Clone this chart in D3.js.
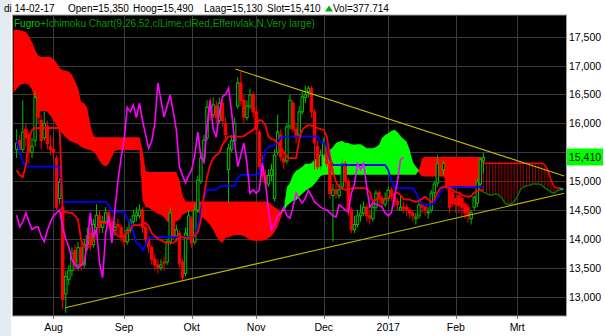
<!DOCTYPE html>
<html>
<head>
<meta charset="utf-8">
<script src="https://cdn.jsdelivr.net/npm/d3@7"></script>
<style>
  body { margin: 0; background: #fff; }
  svg { display: block; }
  text { font-family: "Segoe UI", "Liberation Sans", Arial, sans-serif; }
</style>
</head>
<body>
<script>
// ---- data ----
const ticker = "Fugro";
const studyName = "+Ichimoku Chart(9,26,52,clLime,clRed,Effenvlak,N,Very large)";
const firstDay = "2016-07-13";          // first cloud day, candles start one trading day later
const holidays = ["2016-12-26"];
const cloudShift = 26;
const volume = 377714;

const monthLabels = ["Aug", "Sep", "Okt", "Nov", "Dec", "2017", "Feb", "Mrt"];
const monthStarts = ["2016-08-01", "2016-09-01", "2016-10-01", "2016-11-01", "2016-12-01", "2017-01-01", "2017-02-01", "2017-03-01"];
const priceTicks = [13, 13.5, 14, 14.5, 15, 15.5, 16, 16.5, 17, 17.5];

// daily candles, 14-07-16 .. 14-02-17
const open = [15.55,15.70,15.55,15.90,15.80,15.50,15.70,16.40,16.05,15.75,15.95,15.60,
  15.55,15.40,14.70,14.55,13.05,13.30,13.45,13.80,13.55,13.85,
  13.55,13.90,14.10,13.90,14.20,14.40,14.20,14.30,14.45,14.30,
  14.15,14.25,14.20,14.05,13.95,14.15,14.30,14.40,14.40,14.50,
  14.20,14.00,13.85,13.65,13.55,13.50,13.60,13.60,13.95,14.40,
  14.05,14.10,13.60,13.40,14.05,14.35,13.95,14.50,15.00,15.40,
  15.75,16.30,16.15,16.30,16.05,16.35,16.00,15.20,15.55,15.70,
  16.30,16.70,16.40,16.10,16.30,16.50,16.20,15.85,15.25,15.10,
  14.95,15.10,14.70,15.50,15.80,15.40,15.35,15.95,16.35,15.90,
  15.80,16.20,16.45,16.55,16.60,16.20,15.60,15.25,15.45,15.60,
  15.30,14.75,14.85,14.75,14.90,15.30,15.00,14.50,14.16,14.25,
  14.40,14.45,14.55,14.40,14.35,14.55,14.80,14.70,14.60,14.70,
  14.85,14.75,14.65,14.50,14.55,14.55,14.50,14.45,14.35,14.40,
  14.60,14.55,14.45,14.50,14.80,14.97,15.35,15.20,15.30,15.00,
  14.80,14.70,14.75,14.70,14.60,14.55,14.35,14.55,14.62,14.95,15.35];
const high = [15.90,15.80,16.40,16.00,15.85,15.75,16.55,16.45,16.15,16.20,16.05,15.80,
  15.75,15.45,15.05,14.60,13.45,13.55,13.85,13.90,13.95,13.95,
  14.00,14.20,14.20,14.35,14.60,14.50,14.40,14.55,14.50,14.35,
  14.30,14.35,14.25,14.10,14.20,14.35,14.50,14.55,14.60,14.55,
  14.25,14.05,13.90,13.75,13.65,13.65,13.70,14.00,14.55,14.45,
  14.25,14.15,13.65,14.20,14.50,14.40,14.60,15.10,15.50,15.80,
  16.40,16.45,16.45,16.40,16.45,16.40,16.10,15.65,15.80,16.10,
  16.80,16.90,16.50,16.40,16.60,16.55,16.30,15.90,15.45,15.20,
  15.20,15.30,15.55,16.15,15.90,15.50,16.00,16.50,16.40,16.00,
  16.30,16.55,16.65,16.65,16.65,16.25,15.70,15.55,15.75,15.65,
  15.35,14.95,14.95,14.95,15.40,15.35,15.05,14.55,14.40,14.50,
  14.60,14.65,14.60,14.50,14.65,14.85,14.85,14.75,14.80,14.90,
  14.90,14.80,14.70,14.75,14.65,14.60,14.55,14.50,14.45,14.70,
  14.65,14.60,14.55,14.85,15.00,15.45,15.40,15.35,15.35,15.05,
  14.85,14.70,14.80,14.75,14.65,14.60,14.50,14.75,15.05,15.40,15.49];
const low = [15.40,15.45,15.50,15.60,15.30,15.40,15.60,16.00,15.55,15.70,15.55,15.45,
  15.40,14.50,14.60,12.78,12.72,13.20,13.35,13.45,13.45,13.45,
  13.50,13.80,13.80,13.85,14.15,14.10,14.10,14.25,14.20,14.05,
  14.05,14.10,13.95,13.85,13.90,14.10,14.25,14.30,14.35,14.10,
  13.90,13.75,13.55,13.45,13.40,13.45,13.45,13.55,13.90,14.00,
  13.95,13.50,13.28,13.35,14.00,13.85,13.90,14.45,14.95,15.35,
  15.70,16.05,16.10,16.00,16.00,15.95,15.70,14.62,15.50,15.65,
  16.25,16.30,16.00,16.05,16.25,16.10,15.80,15.15,15.00,14.90,
  14.90,15.00,14.65,15.45,15.35,15.20,15.30,15.90,15.85,15.65,
  15.75,16.15,16.35,16.45,16.10,15.20,15.20,15.20,15.40,15.25,
  14.70,13.95,14.70,14.70,14.85,14.90,14.40,14.10,14.10,14.20,
  14.30,14.40,14.30,14.25,14.30,14.50,14.60,14.55,14.55,14.65,
  14.65,14.55,14.50,14.50,14.45,14.40,14.35,14.30,14.25,14.35,
  14.45,14.40,14.35,14.45,14.70,14.90,15.10,15.10,14.85,14.45,
  14.55,14.45,14.45,14.40,14.35,14.28,14.25,14.50,14.55,14.90,15.13];
const close = [15.66,15.55,15.85,15.75,15.50,15.60,16.45,16.10,15.70,16.00,15.65,15.55,
  15.50,14.55,14.98,12.95,13.35,13.45,13.75,13.55,13.85,13.55,
  13.90,14.05,13.90,14.25,14.41,14.21,14.30,14.45,14.30,14.16,
  14.20,14.21,14.05,13.95,14.15,14.29,14.40,14.45,14.50,14.20,
  14.00,13.86,13.64,13.55,13.50,13.55,13.58,13.95,14.45,14.05,
  14.16,13.58,13.33,14.10,14.40,13.93,14.50,15.02,15.40,15.71,
  16.28,16.20,16.32,16.10,16.35,16.05,15.80,15.57,15.70,16.00,
  16.70,16.40,16.11,16.30,16.49,16.20,15.89,15.25,15.10,14.97,
  15.10,15.20,15.45,15.85,15.42,15.33,15.94,16.40,15.90,15.76,
  16.20,16.46,16.50,16.61,16.20,15.66,15.25,15.45,15.66,15.30,
  14.79,14.85,14.79,14.85,15.31,15.00,14.50,14.16,14.25,14.40,
  14.45,14.55,14.40,14.36,14.55,14.79,14.70,14.62,14.70,14.84,
  14.75,14.64,14.60,14.55,14.52,14.50,14.45,14.40,14.38,14.59,
  14.55,14.50,14.47,14.79,14.95,15.30,15.20,15.31,14.90,14.55,
  14.62,14.60,14.58,14.55,14.45,14.40,14.45,14.72,14.99,15.37,15.41];

// conversion line (9) and base line (26), same days as the candles
const tenkan = [15.19,15.11,15.07,15.28,15.71,15.89,15.92,15.92,15.92,15.92,15.92,15.92,
  15.92,15.92,15.92,14.47,14.47,14.45,14.45,14.40,14.33,13.98,
  13.86,13.85,13.88,13.98,14.16,14.26,14.28,14.28,14.28,14.22,
  14.12,14.05,14.03,14.05,14.10,14.17,14.24,14.24,14.24,14.26,
  14.28,14.22,14.10,14.05,14.00,13.98,13.95,13.93,13.93,13.93,
  13.98,14.03,14.03,14.02,14.02,14.03,14.05,14.12,14.33,14.76,
  15.07,15.28,15.40,15.45,15.49,15.63,15.71,15.77,15.77,15.77,
  15.77,15.77,15.78,15.82,15.85,15.89,15.96,16.06,16.04,15.97,
  15.77,15.73,15.71,15.66,15.59,15.51,15.42,15.40,15.40,15.40,
  15.71,15.89,15.94,15.97,15.96,15.94,15.92,15.90,15.89,15.77,
  15.45,15.16,14.99,14.90,14.87,14.85,14.85,14.87,14.88,14.88,
  14.88,14.88,14.87,14.81,14.64,14.68,14.71,14.69,14.68,14.71,
  14.76,14.78,14.80,14.76,14.69,14.68,14.68,14.66,14.64,14.66,
  14.69,14.73,14.68,14.64,14.68,14.80,14.88,14.90,14.90,14.88,
  14.85,14.81,14.80,14.76,14.74,14.73,14.74,14.80,14.83,14.85,14.85];
const kijun = [15.71,15.51,15.33,15.25,15.25,15.25,15.25,15.25,15.25,15.25,15.25,15.25,
  15.25,15.25,15.25,14.64,14.64,14.64,14.64,14.64,14.64,14.64,
  14.64,14.64,14.64,14.64,14.64,14.64,14.64,14.64,14.59,14.47,
  14.47,14.47,14.47,14.47,14.36,14.28,14.12,13.93,13.90,13.81,
  13.90,14.02,14.03,14.03,14.03,14.03,14.03,14.03,14.03,14.03,
  14.03,14.03,14.03,14.03,14.03,14.03,14.03,14.24,14.50,14.71,
  14.85,14.85,14.85,14.85,14.90,14.92,14.92,14.92,14.92,14.92,
  15.06,15.11,15.11,15.11,15.11,15.11,15.11,15.14,15.28,15.54,
  15.59,15.61,15.63,15.66,15.75,15.77,15.77,15.77,15.77,15.77,
  15.77,15.77,15.77,15.77,15.77,15.77,15.77,15.68,15.66,15.63,
  15.37,15.28,15.28,15.28,15.28,15.28,15.28,15.28,15.28,15.28,
  15.28,15.28,15.28,15.28,15.28,15.28,15.28,15.28,15.28,15.19,
  15.02,14.90,14.88,14.88,14.88,14.88,14.88,14.88,14.80,14.68,
  14.61,14.59,14.59,14.59,14.62,14.71,14.81,14.88,14.90,14.90,
  14.90,14.90,14.90,14.90,14.90,14.90,14.90,14.90,14.90,14.90,14.90];

// leading spans as plotted (already shifted), 13-07-16 .. 26 days past the last candle
const spanA = [16.53,16.60,16.66,16.68,16.69,16.67,16.58,16.37,16.23,16.21,
  16.21,16.20,16.13,16.06,15.96,15.87,15.82,15.76,15.71,15.68,
  15.66,15.64,15.59,15.57,15.55,15.54,15.51,15.45,15.35,15.28,
  15.26,15.30,15.42,15.52,15.54,15.54,15.54,15.54,15.54,15.54,
  15.54,15.54,14.67,14.55,14.54,14.50,14.47,14.43,14.42,14.38,
  14.30,14.28,14.30,14.30,14.33,14.42,14.45,14.47,14.47,14.47,
  14.47,14.40,14.35,14.30,14.24,14.16,14.05,13.97,13.93,14.02,
  14.03,14.05,14.07,14.07,14.07,14.05,14.02,13.98,13.97,13.97,
  13.97,13.97,13.98,14.02,14.05,14.12,14.22,14.36,14.52,14.90,
  14.97,15.11,15.18,15.21,15.25,15.30,15.30,15.31,15.37,15.40,
  15.44,15.47,15.49,15.54,15.59,15.66,15.68,15.70,15.66,15.66,
  15.64,15.63,15.64,15.64,15.61,15.57,15.57,15.57,15.59,15.63,
  15.75,15.80,15.83,15.87,15.89,15.85,15.78,15.73,15.68,15.54,
  15.33,15.25,15.14,15.09,15.08,15.08,15.08,15.08,15.08,15.08,
  15.08,14.99,14.90,14.88,14.88,14.88,14.88,14.88,14.88,14.88,
  14.88,14.88,14.83,14.81,14.79,14.76,14.76,14.78,14.76,14.71,
  14.62,14.59,14.61,14.64,14.73,14.85,14.90,14.92,14.93,14.95,
  14.95,14.95,14.93,14.88,14.85,14.81,14.79,14.83,14.86,14.86];
const spanB = [17.62,17.62,17.61,17.60,17.58,17.51,17.41,17.27,17.17,17.15,
  17.15,17.15,17.15,17.11,17.05,16.96,16.92,16.91,16.90,16.84,
  16.73,16.61,16.37,16.35,16.27,15.97,15.78,15.76,15.76,15.76,
  15.76,15.76,15.76,15.76,15.76,15.76,15.76,15.76,15.76,15.76,
  15.76,15.76,15.54,15.18,15.16,15.16,15.16,15.16,15.16,15.16,
  15.16,15.16,15.16,15.16,15.02,14.76,14.65,14.65,14.65,14.65,
  14.65,14.65,14.65,14.65,14.65,14.65,14.65,14.65,14.65,14.65,
  14.65,14.65,14.65,14.65,14.65,14.65,14.65,14.65,14.65,14.65,
  14.65,14.65,14.65,14.64,14.59,14.55,14.52,14.47,14.48,14.57,
  14.62,14.66,14.67,14.73,14.78,14.83,14.87,14.90,14.95,15.02,
  15.09,15.11,15.11,15.11,15.11,15.11,15.11,15.11,15.11,15.11,
  15.11,15.11,15.11,15.11,15.11,15.11,15.11,15.11,15.11,15.11,
  15.11,15.11,15.11,15.11,15.11,15.11,15.11,15.11,15.11,15.11,
  15.11,15.11,15.19,15.40,15.42,15.42,15.42,15.42,15.42,15.42,
  15.42,15.42,15.42,15.42,15.42,15.42,15.42,15.42,15.42,15.42,
  15.42,15.42,15.42,15.31,15.31,15.31,15.31,15.31,15.31,15.31,
  15.31,15.31,15.31,15.31,15.31,15.31,15.31,15.31,15.31,15.31,
  15.31,15.31,15.31,15.28,15.19,15.02,14.90,14.88,14.88,14.86];

// hand-drawn trend lines: [day number from firstDay, price]
const trendUpper = [[72.25, 16.94], [179.3, 15.09]];
const trendLower = [[16.78, 12.81], [179.3, 14.79]];

// ---- layout ----
const W = 605, H = 336;
const plot = { left: 12.5, right: 566.5, top: 15, bottom: 316 };
const upCol = "#00c000", downCol = "#ff0000";

const nl = d3.formatLocale({ decimal: ",", thousands: ".", grouping: [3], currency: ["€", ""] });
const f3 = nl.format(".3f"), fInt = nl.format(",d");
const parse = d3.timeParse("%Y-%m-%d"), iso = d3.timeFormat("%Y-%m-%d");

// trading-day calendar
const nDays = 1 + close.length + cloudShift;
const days = [];
for (let d = parse(firstDay); days.length < nDays; d = d3.timeDay.offset(d, 1)) {
  const wd = d.getDay();
  if (wd !== 0 && wd !== 6 && !holidays.includes(iso(d))) days.push(d);
}
const monthPos = monthStarts.map(s => days.findIndex(d => d >= parse(s)));

const x = d3.scaleLinear().domain([-0.35, nDays + 0.05]).range([plot.left, plot.right]);
const y = d3.scaleLinear().domain([12.666, 17.876]).range([plot.bottom, plot.top]);

const svg = d3.select("body").append("svg").attr("width", W).attr("height", H);
svg.append("rect").attr("width", W).attr("height", H).attr("fill", "#fff");
svg.append("rect").attr("width", 11).attr("height", H).attr("fill", "#e4ebf3");

svg.append("clipPath").attr("id", "clip").append("rect")
  .attr("x", plot.left).attr("y", plot.top)
  .attr("width", plot.right - plot.left).attr("height", plot.bottom - plot.top);

svg.append("rect")
  .attr("x", plot.left).attr("y", plot.top)
  .attr("width", plot.right - plot.left).attr("height", plot.bottom - plot.top)
  .attr("fill", "#000").attr("stroke", "#a0a0a0");

const g = svg.append("g").attr("clip-path", "url(#clip)");

// grid
g.selectAll("line.hg").data(priceTicks).join("line")
  .attr("x1", plot.left).attr("x2", plot.right)
  .attr("y1", d => Math.round(y(d)) + 0.5).attr("y2", d => Math.round(y(d)) + 0.5)
  .attr("stroke", "#3a3a3a");
g.selectAll("line.vg").data(monthPos).join("line")
  .attr("x1", d => Math.round(x(d)) + 0.5).attr("x2", d => Math.round(x(d)) + 0.5)
  .attr("y1", plot.top).attr("y2", plot.bottom)
  .attr("stroke", "#3a3a3a");

// cloud, solid part up to the last candle
const lastPos = close.length;                 // day number of the last candle
const solid = d3.range(0, lastPos);
const hiOf = i => Math.max(spanA[i], spanB[i]);
g.append("path").datum(solid)
  .attr("fill", downCol)
  .attr("d", d3.area().x(i => x(i)).y0(i => y(spanA[i])).y1(i => y(hiOf(i))));
g.append("path").datum(solid)
  .attr("fill", "#00ff00")
  .attr("d", d3.area().x(i => x(i)).y0(i => y(spanB[i])).y1(i => y(hiOf(i))));

// cloud ahead of the last candle: hatched
const ahead = d3.range(lastPos, nDays);
g.selectAll("line.hatch").data(ahead).join("line")
  .attr("x1", i => x(i)).attr("x2", i => x(i))
  .attr("y1", i => y(spanA[i])).attr("y2", i => y(spanB[i]))
  .attr("stroke", "#a00000");
const aheadEdge = d3.range(lastPos - 1, nDays);
g.append("path").datum(aheadEdge).attr("fill", "none").attr("stroke", downCol).attr("stroke-width", 1.5)
  .attr("d", d3.line().x(i => x(i)).y(i => y(spanB[i])));
g.append("path").datum(aheadEdge).attr("fill", "none").attr("stroke", "#007000").attr("stroke-width", 1.5)
  .attr("d", d3.line().x(i => x(i)).y(i => y(spanA[i])));
g.append("line")
  .attr("x1", x(nDays - 2)).attr("x2", x(nDays - 1))
  .attr("y1", y(spanA[nDays - 1])).attr("y2", y(spanA[nDays - 1]))
  .attr("stroke", "#00b0b0").attr("stroke-width", 2);

// candles
const bars = close.map((c, j) => ({ pos: j + 1, o: open[j], h: high[j], l: low[j], c }));
const colOf = d => d.c >= d.o ? upCol : downCol;
g.selectAll("line.wick").data(bars).join("line")
  .attr("x1", d => x(d.pos)).attr("x2", d => x(d.pos))
  .attr("y1", d => y(d.h)).attr("y2", d => y(d.l))
  .attr("stroke", colOf);
g.selectAll("rect.body").data(bars).join("rect")
  .attr("x", d => x(d.pos) - 1.2).attr("width", 2.4)
  .attr("y", d => y(Math.max(d.o, d.c)))
  .attr("height", d => Math.max(1, Math.abs(y(d.o) - y(d.c))))
  .attr("fill", d => d.c >= d.o ? "#000" : downCol)
  .attr("stroke", colOf);

// tenkan, kijun, chikou
const dayLine = offset => d3.line().x((v, j) => x(j + offset)).y(v => y(v));
g.append("path").datum(kijun).attr("fill", "none").attr("stroke", "#0000ff").attr("stroke-width", 1.8)
  .attr("d", dayLine(1));
g.append("path").datum(tenkan).attr("fill", "none").attr("stroke", "#ff0000").attr("stroke-width", 1.8)
  .attr("d", dayLine(1));
g.append("path").datum(close.slice(cloudShift)).attr("fill", "none").attr("stroke", "#ff00ff").attr("stroke-width", 1.6)
  .attr("d", dayLine(1));

// trend lines
[trendUpper, trendLower].forEach(t => {
  g.append("path").datum(t).attr("fill", "none").attr("stroke", "#bcbc00").attr("stroke-width", 1.1)
    .attr("d", d3.line().x(p => x(p[0])).y(p => y(p[1])));
});

// legend
const lg = svg.append("text").attr("x", 14).attr("y", 27).attr("font-size", 10);
lg.append("tspan").attr("fill", "#00c800").text(ticker);
lg.append("tspan").attr("fill", "#009a00").text(studyName);

// price axis; the last-price tag hides the tick label it covers
const lastClose = close[close.length - 1];
svg.selectAll("text.yl").data(priceTicks.filter(d => Math.abs(y(d) - y(lastClose)) > 12)).join("text")
  .attr("x", 569).attr("y", d => y(d) + 4)
  .attr("font-size", 10.5).attr("fill", "#000")
  .text(d => f3(d));
svg.append("rect").attr("x", 567).attr("y", y(lastClose) - 9).attr("width", 36).attr("height", 17).attr("fill", "#00ff00");
svg.append("text").attr("x", 569).attr("y", y(lastClose) + 4)
  .attr("font-size", 10.5).attr("fill", "#000").text(f3(lastClose));

// time axis
svg.selectAll("line.xt").data(monthPos).join("line")
  .attr("x1", d => Math.round(x(d)) + 0.5).attr("x2", d => Math.round(x(d)) + 0.5)
  .attr("y1", plot.bottom).attr("y2", plot.bottom + 3).attr("stroke", "#808080");
svg.selectAll("text.xl").data(monthPos).join("text")
  .attr("x", d => x(d)).attr("y", 331).attr("text-anchor", "middle")
  .attr("font-size", 10.5).attr("fill", "#000")
  .text((d, i) => monthLabels[i]);

// header with the last bar
const last = close.length - 1;
const wdNl = ["zo", "ma", "di", "wo", "do", "vr", "za"];
const lastDay = days[last + 1];
const header = [
  [4, wdNl[lastDay.getDay()] + " " + d3.timeFormat("%d-%m-%y")(lastDay)],
  [68, "Open=" + f3(open[last])],
  [133, "Hoog=" + f3(high[last])],
  [204, "Laag=" + f3(low[last])],
  [267, "Slot=" + f3(close[last])],
  [333, "Vol=" + fInt(volume)]
];
svg.selectAll("text.hd").data(header).join("text")
  .attr("x", d => d[0]).attr("y", 12).attr("font-size", 10).attr("fill", "#000")
  .text(d => d[1]);
svg.append("path").attr("d", "M325,11.5 L329,5.5 L333,11.5 Z").attr("fill", "#00b000");
</script>
</body>
</html>
